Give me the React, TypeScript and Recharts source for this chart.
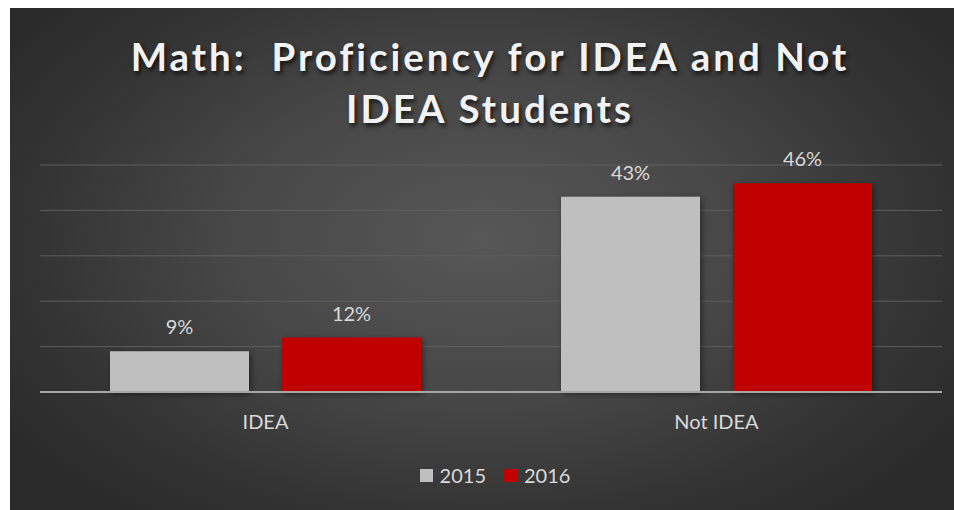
import { BarChart, Bar, XAxis, YAxis, CartesianGrid, Legend, LabelList } from "recharts";

const categories = ["IDEA", "Not IDEA"];
const values2015 = [9, 43];
const values2016 = [12, 46];
const yTicks = [0, 10, 20, 30, 40, 50];

const data = categories.map((name, i) => ({
  name,
  y2015: values2015[i],
  y2016: values2016[i],
}));

const FONT = "Lato, 'Open Sans', sans-serif";
const TEXT = "#d9d9d9";

const legendItems = [
  { label: "2015", color: "#bfbfbf" },
  { label: "2016", color: "#c00000" },
];

function LegendContent() {
  return (
    <div style={{ display: "flex", justifyContent: "center", gap: 18, paddingTop: 23, paddingLeft: 8, fontFamily: FONT, fontSize: 20, color: TEXT }}>
      {legendItems.map((it) => (
        <div key={it.label} style={{ display: "flex", alignItems: "center", gap: 7 }}>
          <span style={{ width: 13, height: 13, background: it.color, display: "inline-block" }} />
          <span>{it.label}</span>
        </div>
      ))}
    </div>
  );
}

export default function App() {
  return (
    <div
      style={{
        position: "absolute",
        top: 8,
        left: 10,
        width: 944,
        height: 502,
        background: "radial-gradient(ellipse 60% 70% at 50% 46%, #575757 0%, #474747 45%, #333333 80%, #2b2b2b 100%)",
        fontFamily: FONT,
      }}
    >
      <div
        style={{
          position: "absolute",
          top: 22,
          left: 8,
          width: 944,
          textAlign: "center",
          color: "#f2f2f2",
          fontWeight: 700,
          fontSize: 38.5,
          lineHeight: "52px",
          letterSpacing: 3,
          whiteSpace: "pre",
          textShadow: "2px 3px 4px rgba(0,0,0,0.7)",
        }}
      >
        {"Math:  Proficiency for IDEA and Not\nIDEA Students"}
      </div>
      <BarChart
        width={944}
        height={502}
        data={data}
        margin={{ top: 157, right: 12, left: 30, bottom: 0 }}
        barCategoryGap={70}
        barGap={33}
      >
        <defs>
          <filter id="barShadow" x="-10%" y="-10%" width="130%" height="130%">
            <feDropShadow dx="2" dy="2" stdDeviation="3" floodColor="#000" floodOpacity="0.45" />
          </filter>
        </defs>
        <CartesianGrid vertical={false} stroke="#5e5e5e" strokeWidth={1} />
        <YAxis hide domain={[0, 50]} ticks={yTicks} />
        <XAxis
          dataKey="name"
          axisLine={{ stroke: "#a6a6a6", strokeWidth: 2 }}
          tickLine={false}
          tick={{ fill: TEXT, fontSize: 20, fontFamily: FONT }}
          tickMargin={17}
          height={48}
        />
        <Legend verticalAlign="bottom" height={70} content={() => <LegendContent />} />
        <Bar dataKey="y2015" name="2015" fill="#bfbfbf" filter="url(#barShadow)" isAnimationActive={false}>
          <LabelList dataKey="y2015" position="top" offset={17} formatter={(v: number) => `${v}%`} fill={TEXT} fontSize={20} fontFamily={FONT} />
        </Bar>
        <Bar dataKey="y2016" name="2016" fill="#c00000" filter="url(#barShadow)" isAnimationActive={false}>
          <LabelList dataKey="y2016" position="top" offset={17} formatter={(v: number) => `${v}%`} fill={TEXT} fontSize={20} fontFamily={FONT} />
        </Bar>
      </BarChart>
    </div>
  );
}
